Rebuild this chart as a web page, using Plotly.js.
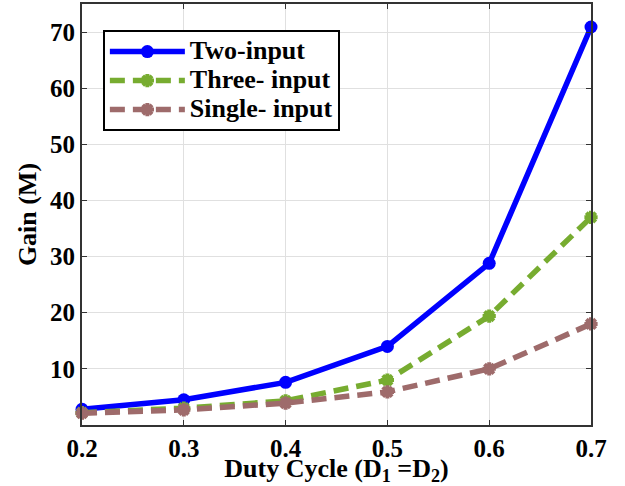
<!DOCTYPE html>
<html>
<head>
<meta charset="utf-8">
<script src="https://cdn.plot.ly/plotly-3.0.1.min.js"></script>
<style>html,body{margin:0;padding:0;background:#fff;}#chart{width:625px;height:486px;}</style>
</head>
<body>
<div id="chart"></div>
<script>
var dutyCycle = [0.2, 0.3, 0.4, 0.5, 0.6, 0.7];
var twoInput = [2.8, 4.5, 7.6, 14.0, 28.8, 70.9];
var threeInput = [2.2, 3.0, 4.3, 8.0, 19.4, 37.0];
var singleInput = [2.1, 2.7, 3.9, 5.9, 10.0, 18.0];
var seriesNames = ["Two-input", "Three- input", "Single- input"];
var xTicks = [0.2, 0.3, 0.4, 0.5, 0.6, 0.7];
var yTicks = [10, 20, 30, 40, 50, 60, 70];

var fam = "Liberation Serif";
function f(sz) { return {family: fam, size: sz, color: "#000", weight: "bold"}; }
function legName(s) { return '<span style="font-size:26px">' + s + '</span>'; }

var traces = [
  {x: dutyCycle, y: twoInput, name: legName(seriesNames[0]), mode: "lines+markers", cliponaxis: false,
   line: {color: "#0000ff", width: 5.5},
   marker: {symbol: "circle", size: 13, color: "#0000ff"}},
  {x: dutyCycle, y: threeInput, name: legName(seriesNames[1]), mode: "lines+markers", cliponaxis: false,
   line: {color: "#77ac30", width: 5.5, dash: "15px,8px"},
   marker: {symbol: "asterisk-open", size: 11, color: "#77ac30", line: {color: "#77ac30", width: 4}}},
  {x: dutyCycle, y: singleInput, name: legName(seriesNames[2]), mode: "lines+markers", cliponaxis: false,
   line: {color: "#9e6b6b", width: 5.5, dash: "15px,8px"},
   marker: {symbol: "asterisk-open", size: 11, color: "#9e6b6b", line: {color: "#9e6b6b", width: 4}}}
];

var layout = {
  width: 625, height: 486,
  margin: {l: 82, r: 34, t: 4, b: 61},
  paper_bgcolor: "#fff", plot_bgcolor: "#fff",
  font: f(25),
  showlegend: true,
  legend: {x: 0.041, y: 0.938, xanchor: "left", yanchor: "top",
           bgcolor: "#fff", bordercolor: "#000", borderwidth: 2,
           font: f(20), itemwidth: 75, tracegroupgap: 0},
  xaxis: {range: [0.2, 0.7], tickvals: xTicks, ticktext: xTicks.map(function(v){return v.toFixed(1);}),
          showgrid: true, gridcolor: "#e0e0e0", gridwidth: 1,
          showline: true, linecolor: "#333", linewidth: 2, mirror: "ticks",
          ticks: "inside", ticklen: 5, tickcolor: "#333", zeroline: false,
          tickfont: f(25),
          title: {text: "Duty Cycle (D<sub>1</sub> =D<sub>2</sub>)", standoff: 8, font: f(26)}},
  yaxis: {range: [0, 75], tickvals: yTicks,
          showgrid: true, gridcolor: "#e0e0e0", gridwidth: 1,
          showline: true, linecolor: "#333", linewidth: 2, mirror: "ticks",
          ticks: "inside", ticklen: 5, tickcolor: "#333", zeroline: false,
          tickfont: f(25),
          title: {text: "Gain (M)", standoff: 6, font: f(26)}}
};

Plotly.newPlot("chart", traces, layout, {displayModeBar: false, staticPlot: true});
</script>
</body>
</html>
